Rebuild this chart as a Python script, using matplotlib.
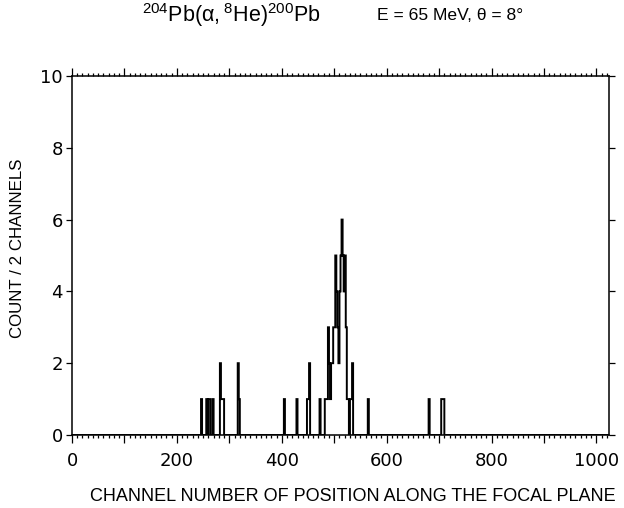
import numpy as np
import matplotlib.pyplot as plt
from matplotlib.ticker import MultipleLocator, FuncFormatter

plt.rcParams['font.family'] = ['Liberation Sans', 'DejaVu Sans']
plt.rcParams['mathtext.fontset'] = 'custom'
plt.rcParams['mathtext.rm'] = 'Liberation Sans'
plt.rcParams['mathtext.it'] = 'Liberation Sans:italic'

# non-empty 2-channel bins (left edge channel) and their counts
bin_chan = [246, 256, 260, 262, 268, 282, 284, 286, 288, 316, 318,
            404, 428, 448, 450, 452, 472, 482, 484, 486, 488,
            490, 492, 494, 496, 498, 500, 502, 504, 506, 508, 510,
            512, 514, 516, 518, 520, 522, 524, 526, 530, 532, 534,
            564, 680, 704, 706, 708]
bin_count = [1, 1, 1, 1, 1, 2, 1, 1, 1, 2, 1,
             1, 1, 1, 1, 2, 1, 1, 1, 1, 3,
             2, 1, 2, 2, 3, 3, 5, 4, 3, 2, 4,
             5, 6, 5, 4, 5, 3, 1, 1, 1, 1, 2,
             1, 1, 1, 1, 1]

n_channels = 1024
bin_width = 2
x_ticks = [0, 200, 400, 600, 800, 1000]
y_ticks = [0, 2, 4, 6, 8, 10]

edges = np.arange(0, n_channels + bin_width, bin_width)
hist = np.zeros(len(edges) - 1)
hist[np.array(bin_chan) // bin_width] = bin_count

fig = plt.figure(figsize=(6.24, 5.08), dpi=100)
ax = fig.add_axes([0.1154, 0.1437, 0.8606, 0.7067])

ax.stairs(hist, edges, color='black', linewidth=1.4)

ax.set_xlim(0, n_channels)
ax.set_ylim(0, 10)

##### ticks
ax.xaxis.set_major_locator(MultipleLocator(100))
ax.xaxis.set_minor_locator(MultipleLocator(10))
ax.xaxis.set_major_formatter(FuncFormatter(
    lambda v, p: '%d' % v if int(round(v)) in x_ticks else ''))
ax.set_yticks(y_ticks)

ax.tick_params(axis='x', which='both', direction='out', top=True,
               width=0.9, color='black')
ax.tick_params(axis='x', which='major', length=5.5, pad=6.5)
ax.tick_params(axis='x', which='minor', length=2.5)
ax.tick_params(axis='y', which='both', direction='out', right=True,
               length=4.5, width=0.9, pad=2)
for lab in ax.get_xticklabels() + ax.get_yticklabels():
    lab.set_family('DejaVu Sans')
    lab.set_fontsize(13)

for s in ax.spines.values():
    s.set_linewidth(1.1)

##### labels
ax.set_xlabel('CHANNEL NUMBER OF POSITION ALONG THE FOCAL PLANE',
              fontsize=13, va='center')
ax.xaxis.set_label_coords(0.523, -0.17)
ax.set_ylabel('COUNT / 2 CHANNELS', fontsize=12.2, va='center')
ax.yaxis.set_label_coords(-0.1006, 0.52)

fig.text(142 / 624, 1 - 15 / 508,
         r'$\mathregular{^{204}Pb(\alpha,^{8}He)^{200}Pb}$',
         fontsize=15.5, ha='left', va='center')
fig.text(377 / 624, 1 - 16 / 508, 'E = 65 MeV, θ = 8°',
         fontsize=12.6, ha='left', va='center')

fig.savefig('out.png', dpi=100)
